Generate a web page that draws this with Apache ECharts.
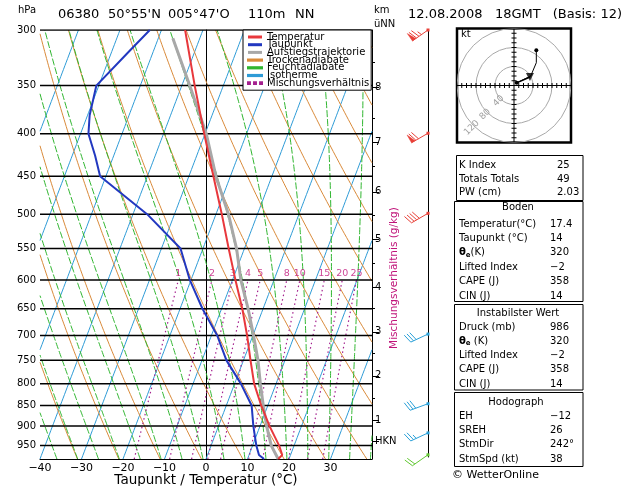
<!DOCTYPE html>
<html><head><meta charset="utf-8">
<script src="https://cdn.jsdelivr.net/npm/echarts@6/dist/echarts.min.js"></script>
<style>html,body{margin:0;padding:0;background:#fff}#c{width:629px;height:486px}</style>
</head><body><div id="c"></div>
<script>
// ===== DATA =====
const pressureLevels = [300,350,400,450,500,550,600,650,700,750,800,850,900,950];
const tempTicks = [-40,-30,-20,-10,0,10,20,30,40];
const tempP = [986,975,950,900,850,800,750,700,650,600,550,500,450,400,350,300];
const tempT = [17.4,18.0,16.4,12.3,8.4,4.7,1.7,-1.4,-5.0,-9.3,-13.8,-18.6,-24.1,-30.2,-36.9,-44.3];
const dewP = [986,975,950,900,850,800,750,700,650,600,550,500,450,425,400,380,350,320,300];
const dewT = [14,12.4,10.9,8.4,6.1,1.5,-4.1,-8.6,-14.6,-20.3,-25.4,-36.6,-51.4,-54.5,-58.1,-59.5,-60.6,-56.1,-52.8];
const parcelP = [986,950,900,850,800,750,700,650,600,550,500,450,400,350,307];
const parcelT = [17.4,14.5,11.6,8.9,6.2,3.5,0.15,-3.6,-8.0,-11.9,-17.0,-23.5,-29.7,-38.1,-46.5];
const mixRatios = [1,2,3,4,5,8,10,15,20,25];
const isoTemps = [-130,-120,-110,-100,-90,-80,-70,-60,-50,-40,-30,-20,-10,0,10,20,30,40];
const dryThetas = [-40,-30,-20,-10,0,10,20,30,40,50,60,70,80,90,100,110,120,130];
const moistThetaW = [-45,-40,-35,-30,-25,-20,-15,-10,-5,0,5,10,15,20,25,30,35,40];
const kmLabels = ['8','7','6','5','4','3','2','1','HKN'];
const kmPressures = [352,410,470,536,612,693,783,885,938];
const kmHalfPressures = [328,383,438,501,573,649,735,832];
const windP = [300,400,500,700,850,922,980];
const windDir = [235,240,240,245,250,245,235];
const windSpd = [75,70,40,30,30,25,20];
const hodoU = [5.6,35,47,47];
const hodoV = [5.6,19.6,48,74];
const hodoRings = [40,80,120];
const stormDir = 242, stormSpd = 38;
const indexRows = [['K Index','25'],['Totals Totals','49'],['PW (cm)','2.03']];
const bodenRows = [['Temperatur(°C)','17.4'],['Taupunkt (°C)','14'],['{t|θ}{s|e}(K)','320'],['Lifted Index','−2'],['CAPE (J)','358'],['CIN (J)','14']];
const instabRows = [['Druck (mb)','986'],['{t|θ}{s|e} (K)','320'],['Lifted Index','−2'],['CAPE (J)','358'],['CIN (J)','14']];
const hodoRows = [['EH','−12'],['SREH','26'],['StmDir','242°'],['StmSpd (kt)','38']];

// ===== skew-T transform =====
const PB = 986, PT = 300, K = 33, XMIN = -40, XMAX = 40;
const ln = Math.log;
function sx(T, p) { return T + K * ln(PB / p); }
function pt(T, p) { return [sx(T, p), ln(p)]; }
function interp(a, b) {
  const bound = (a[0] < XMIN || b[0] < XMIN) ? XMIN : XMAX;
  const t = (bound - a[0]) / (b[0] - a[0]);
  return [bound, a[1] + t * (b[1] - a[1])];
}
function clipLine(pts) {
  const segs = []; let cur = null;
  const inside = x => x >= XMIN && x <= XMAX;
  for (let i = 0; i < pts.length; i++) {
    const q = pts[i];
    if (inside(q[0])) {
      if (!cur) { cur = []; if (i > 0) cur.push(interp(pts[i - 1], q)); }
      cur.push(q);
    } else if (cur) { cur.push(interp(pts[i - 1], q)); segs.push(cur); cur = null; }
  }
  if (cur && cur.length > 1) segs.push(cur);
  return segs;
}
function pRange(p0, p1, n) { const a = []; for (let i = 0; i <= n; i++) a.push(Math.exp(ln(p0) + (ln(p1) - ln(p0)) * i / n)); return a; }
const es = Tc => 6.112 * Math.exp(17.67 * Tc / (Tc + 243.5));

const isoSegs = [], drySegs = [], moistSegs = [], mixSegs = [];
isoTemps.forEach(T => clipLine(pRange(PB, PT, 120).map(p => pt(T, p))).forEach(s => isoSegs.push(s)));
dryThetas.forEach(th => clipLine(pRange(PB, PT, 120).map(p => pt((th + 273.15) * Math.pow(p / 1000, 0.2857) - 273.15, p))).forEach(s => drySegs.push(s)));
moistThetaW.forEach(tw => {
  const Rd = 287.04, cp = 1005.7, Lv = 2.501e6, eps = 0.622;
  let T = tw + 273.15, p = 1000; const pts = [];
  const grad = (T, p) => { const e = es(T - 273.15); const rs = eps * e / (p - e); return (Rd * T + Lv * rs) / (p * (cp + Lv * Lv * rs * eps / (Rd * T * T))); };
  let Tb = T - grad(T, p) * (1000 - PB);
  pts.push(pt(Tb - 273.15, PB));
  p = PB; T = Tb;
  while (p > PT) {
    const dp = Math.max(-4, PT - p);
    const k1 = grad(T, p), k2 = grad(T + k1 * dp / 2, p + dp / 2), k3 = grad(T + k2 * dp / 2, p + dp / 2), k4 = grad(T + k3 * dp, p + dp);
    T += dp * (k1 + 2 * k2 + 2 * k3 + k4) / 6; p += dp;
    pts.push(pt(T - 273.15, p));
  }
  clipLine(pts).forEach(s => moistSegs.push(s));
});
const mixTop = 600;
function mixTd(w, p) { const e = w * p / (622 + w); const a = ln(e / 6.112); return 243.5 * a / (17.67 - a); }
mixRatios.forEach(w => clipLine(pRange(PB, mixTop, 40).map(p => pt(mixTd(w, p), p))).forEach(s => mixSegs.push(s)));

// ===== colours =====
const C = { iso:'#2e9bd6', dry:'#d98a3a', moist:'#2fb52f', mix:'#a4208e', temp:'#e8383c', dew:'#2238c0', parcel:'#a8a8a8', mixLabel:'#c0147a' };
const FONT = '"DejaVu Sans", sans-serif';

const series = [];
function addLines(name, segs, style, z) {
  series.push({ type:'lines', name, coordinateSystem:'cartesian2d', xAxisIndex:0, yAxisIndex:0, polyline:true, silent:true, clip:true, z,
    lineStyle: style, data: segs.map(c => ({ coords: c })) });
}
addLines('Isotherme', isoSegs, { color:C.iso, width:1, opacity:1 }, 2);
addLines('Trockenadiabate', drySegs, { color:C.dry, width:1, opacity:1 }, 2);
addLines('Feuchtadiabate', moistSegs, { color:C.moist, width:1, opacity:1, type:[7,2] }, 2);
addLines('Mischungsverhältnis', mixSegs, { color:C.mix, width:1.2, opacity:1, type:[1.5,3] }, 2);
addLines('Isobaren', pressureLevels.map(p => [[XMIN, ln(p)], [XMAX, ln(p)]]), { color:'#000', width:1.5, opacity:1 }, 3);

series.push({ type:'scatter', name:'mixLabels', xAxisIndex:0, yAxisIndex:0, silent:true, symbolSize:0, z:4,
  data: mixRatios.map(w => [sx(mixTd(w, mixTop), mixTop), ln(mixTop), w]),
  label: { show:true, position:'top', distance:1, formatter: p => String(p.value[2]), color:C.mixLabel, fontFamily:FONT, fontSize:9.5 } });

function profile(name, P, T, color, width) {
  series.push({ type:'line', name, xAxisIndex:0, yAxisIndex:0, showSymbol:false, symbol:'none', silent:true, z:5,
    lineStyle:{ color, width }, itemStyle:{ color }, data: P.map((p, i) => pt(T[i], p)) });
}
profile('Aufstiegstrajektorie', parcelP, parcelT, C.parcel, 3);
profile('Taupunkt', dewP, dewT, C.dew, 2);
profile('Temperatur', tempP, tempT, C.temp, 2);

// wind barbs
function barbColor(p) { return p >= 960 ? '#62c832' : (p >= 650 ? '#2aa0d8' : '#e84038'); }
series.push({ type:'custom', name:'wind', xAxisIndex:1, yAxisIndex:3, silent:true, z:6,
  data: windP.map((p, i) => [0, ln(p), windSpd[i], windDir[i], p]),
  renderItem: function (params, api) {
    const o = api.coord([0, api.value(1)]);
    const spd = api.value(2), dir = api.value(3) * Math.PI / 180, col = barbColor(api.value(4));
    const u = [Math.sin(dir), -Math.cos(dir)], pp = [-u[1], u[0]];
    const Ls = 19, fl = 9;
    const P = d => [o[0] + u[0] * d, o[1] + u[1] * d];
    const ch = [];
    ch.push({ type:'line', shape:{ x1:o[0], y1:o[1], x2:P(Ls)[0], y2:P(Ls)[1] }, style:{ stroke:col, lineWidth:1 } });
    ch.push({ type:'rect', shape:{ x:o[0] - 1.5, y:o[1] - 1.5, width:3, height:3 }, style:{ fill:col } });
    let s = Math.round(spd / 5) * 5, d = Ls;
    while (s >= 50) {
      const a = P(d), b = P(d - 4);
      ch.push({ type:'polygon', shape:{ points:[a, b, [a[0] + pp[0] * fl, a[1] + pp[1] * fl]] }, style:{ fill:col, stroke:col, lineWidth:0.5 } });
      d -= 5; s -= 50;
    }
    while (s >= 10) {
      const a = P(d);
      ch.push({ type:'line', shape:{ x1:a[0], y1:a[1], x2:a[0] + pp[0] * fl + u[0] * 3, y2:a[1] + pp[1] * fl + u[1] * 3 }, style:{ stroke:col, lineWidth:1 } });
      d -= 3; s -= 10;
    }
    if (s >= 5) {
      if (d === Ls) d -= 3;
      const a = P(d);
      ch.push({ type:'line', shape:{ x1:a[0], y1:a[1], x2:a[0] + pp[0] * fl * 0.5 + u[0] * 1.5, y2:a[1] + pp[1] * fl * 0.5 + u[1] * 1.5 }, style:{ stroke:col, lineWidth:1 } });
    }
    return { type:'group', children: ch };
  } });

// hodograph background
series.push({ type:'custom', name:'hodoBg', xAxisIndex:2, yAxisIndex:4, silent:true, z:2, clip:true,
  data: [[0, 0]],
  renderItem: function (params, api) {
    const c = api.coord([0, 0]); const k = api.size([1, 0])[0];
    const ch = [];
    hodoRings.forEach(r => {
      ch.push({ type:'circle', shape:{ cx:c[0], cy:c[1], r:r * k }, style:{ fill:null, stroke:'#a8a8a8', lineWidth:1 } });
      const a = r * k / Math.SQRT2;
      ch.push({ type:'text', x:c[0] - a - 2, y:c[1] + a + 2, rotation:Math.PI / 4,
        style:{ text:String(r), fill:'#a0a0a0', font:'9px ' + FONT, align:'center', verticalAlign:'middle', textAlign:'center', textVerticalAlign:'middle' } });
    });
    const E = 120 * k;
    ch.push({ type:'line', shape:{ x1:c[0] - E, y1:c[1], x2:c[0] + E, y2:c[1] }, style:{ stroke:'#000', lineWidth:1 } });
    ch.push({ type:'line', shape:{ x1:c[0], y1:c[1] - E, x2:c[0], y2:c[1] + E }, style:{ stroke:'#000', lineWidth:1 } });
    for (let v = -110; v <= 110; v += 10) {
      if (v === 0) continue;
      ch.push({ type:'line', shape:{ x1:c[0] + v * k, y1:c[1] - 2.5, x2:c[0] + v * k, y2:c[1] + 2.5 }, style:{ stroke:'#000', lineWidth:1 } });
      ch.push({ type:'line', shape:{ x1:c[0] - 2.5, y1:c[1] + v * k, x2:c[0] + 2.5, y2:c[1] + v * k }, style:{ stroke:'#000', lineWidth:1 } });
    }
    return { type:'group', children: ch };
  } });
series.push({ type:'line', name:'hodo', xAxisIndex:2, yAxisIndex:4, silent:true, z:4,
  data: hodoU.map((u, i) => [u, hodoV[i]]),
  symbol:'circle', symbolSize:(v, p) => (p.dataIndex === 0 || p.dataIndex === hodoU.length - 1) ? 4 : 0,
  lineStyle:{ color:'#000', width:1 }, itemStyle:{ color:'#000' } });
const smRad = (stormDir + 180) * Math.PI / 180;
const stormU = stormSpd * Math.sin(smRad), stormV = stormSpd * Math.cos(smRad);
series.push({ type:'line', name:'storm', xAxisIndex:2, yAxisIndex:4, silent:true, z:4,
  data: [[hodoU[0], hodoV[0]], [stormU, stormV]], symbol:'none', lineStyle:{ color:'#000', width:1.5 } });
series.push({ type:'scatter', name:'stormMark', xAxisIndex:2, yAxisIndex:4, silent:true, z:5,
  data: [[stormU, stormV]], symbol:'triangle', symbolRotate:180, symbolSize:8, itemStyle:{ color:'#000' } });

// ===== axes =====
const lnP = pressureLevels.map(ln);
const kmLn = kmPressures.map(ln);
const yBase = { type:'value', min:ln(PT), max:ln(PB), inverse:true, splitLine:{ show:false } };
const yAxis = [
  Object.assign({}, yBase, { gridIndex:0, position:'left',
    axisLine:{ show:true, lineStyle:{ color:'#000', width:1 } }, axisTick:{ show:false },
    axisLabel:{ customValues:lnP, formatter:v => String(Math.round(Math.exp(v))), color:'#000', fontFamily:FONT, fontSize:10, margin:4 } }),
  Object.assign({}, yBase, { gridIndex:0, position:'right',
    axisLine:{ show:true, lineStyle:{ color:'#000', width:1 } },
    axisTick:{ show:true, customValues:kmLn, length:7, lineStyle:{ color:'#000' } },
    axisLabel:{ customValues:kmLn, formatter:v => { const i = kmLn.findIndex(q => Math.abs(q - v) < 1e-6); return i >= 0 ? kmLabels[i] : ''; }, color:'#000', fontFamily:FONT, fontSize:10, margin:3 } }),
  Object.assign({}, yBase, { gridIndex:0, position:'right', axisLine:{ show:false },
    axisTick:{ show:true, customValues:kmHalfPressures.map(ln), length:3, lineStyle:{ color:'#000' } }, axisLabel:{ show:false } }),
  Object.assign({}, yBase, { gridIndex:1, position:'left', axisLine:{ show:true, lineStyle:{ color:'#000', width:1 } }, axisTick:{ show:false }, axisLabel:{ show:false } }),
  { type:'value', gridIndex:2, min:-120, max:120, show:false }
];
const xAxis = [
  { type:'value', gridIndex:0, min:XMIN, max:XMAX, interval:10, splitLine:{ show:false },
    axisLine:{ show:true, onZero:false, lineStyle:{ color:'#000', width:1 } }, axisTick:{ show:false },
    axisLabel:{ color:'#000', fontFamily:FONT, fontSize:11, margin:4, showMaxLabel:false,
      formatter:v => (tempTicks.indexOf(v) < 0 || v >= 40) ? '' : (v < 0 ? '−' + Math.abs(v) : String(v)) },
    name:'Taupunkt / Temperatur (°C)', nameLocation:'middle', nameGap:14, nameMoveOverlap:false,
    nameTextStyle:{ color:'#000', fontFamily:FONT, fontSize:13.5 } },
  { type:'value', gridIndex:1, min:0, max:1, show:false },
  { type:'value', gridIndex:2, min:-120, max:120, show:false }
];

// ===== graphic (titles, tables) =====
const g = [];
function txt(x, y, text, size, opt) {
  opt = opt || {};
  g.push({ type:'text', x, y, z:10, rotation:opt.rot || 0,
    style:Object.assign({ text, fill:opt.color || '#000', font:(opt.bold ? 'bold ' : '') + size + 'px ' + FONT,
      align:opt.align || 'left', verticalAlign:'middle', textAlign:opt.align || 'left', textVerticalAlign:'middle' }, opt.rich ? { rich:opt.rich } : {}) });
}
const rich = { t:{ font:'bold 10px ' + FONT, fill:'#000' }, s:{ font:'bold 7px ' + FONT, fill:'#000', padding:[4,0,0,0] } };
txt(18, 10, 'hPa', 10);
txt(58, 15, '06380', 13); txt(108, 15, "50°55'N", 13); txt(168, 15, "005°47'O", 13); txt(248, 15, '110m', 13); txt(295, 15, 'NN', 13);
txt(374, 10, 'km', 10); txt(374, 24, 'üNN', 10);
txt(408, 15, '12.08.2008', 13); txt(495, 15, '18GMT', 13); txt(622, 15, '(Basis: 12)', 13, { align:'right' });
txt(394, 278, 'Mischungsverhältnis (g/kg)', 10.5, { color:C.mixLabel, rot:Math.PI / 2, align:'center' });
txt(461, 34, 'kt', 10);
txt(452, 475, '© WetterOnline', 11);
function box(x, y, w, h) { g.push({ type:'rect', z:9, shape:{ x, y, width:w, height:h }, style:{ fill:'#fff', stroke:'#000', lineWidth:1 } }); }
function rows(list, x0, xv, y0, dy) { list.forEach((r, i) => { txt(x0, y0 + i * dy, r[0], 10, { rich }); txt(xv, y0 + i * dy, r[1], 10); }); }
box(456.5, 155.5, 126.5, 45); rows(indexRows, 459, 557, 165.5, 13.5);
box(454.5, 201.5, 128.5, 100); txt(518, 207.5, 'Boden', 10, { align:'center' }); rows(bodenRows, 459, 550, 224, 14.4);
box(454.5, 304.5, 128.5, 85.5); txt(518, 313, 'Instabilster Wert', 10, { align:'center' }); rows(instabRows, 459, 550, 327, 14.3);
box(454.5, 392.5, 128.5, 74); txt(516, 402, 'Hodograph', 10, { align:'center' }); rows(hodoRows, 459, 550, 416, 14.4);

const thin = 'path://M0,0H14V1.2H0Z', thick = 'path://M0,0H14V3H0Z', dots = 'path://M0,0H1.6V1.4H0Z M5,0H6.6V1.4H5Z M10,0H11.6V1.4H10Z';
const chart = echarts.init(document.getElementById('c'), null, { renderer:'canvas' });
chart.setOption({
  animation:false, backgroundColor:'#fff',
  grid:[ { left:40, right:257, top:30, bottom:27, outerBoundsMode:'none', containLabel:false },
         { left:428, width:1, top:30, bottom:29, outerBoundsMode:'none', containLabel:false },
         { left:457, top:28.5, width:114, height:114, show:true, borderColor:'#000', borderWidth:2.5, backgroundColor:'#fff', z:1, outerBoundsMode:'none', containLabel:false } ],
  xAxis, yAxis, series, graphic:{ elements:g },
  legend:{ orient:'vertical', left:243, top:30, itemWidth:14, itemHeight:8, itemGap:-2.3, padding:[2,2,2,4], selectedMode:false,
    backgroundColor:'#fff', borderColor:'#000', borderWidth:1, z:8,
    textStyle:{ fontFamily:FONT, fontSize:10, lineHeight:8.7, color:'#000' },
    data:[ { name:'Temperatur', icon:thick, itemStyle:{ color:C.temp } }, { name:'Taupunkt', icon:thick, itemStyle:{ color:C.dew } },
           { name:'Aufstiegstrajektorie', icon:thick, itemStyle:{ color:C.parcel } }, { name:'Trockenadiabate', icon:thin, itemStyle:{ color:C.dry } },
           { name:'Feuchtadiabate', icon:thin, itemStyle:{ color:C.moist } }, { name:'Isotherme', icon:thin, itemStyle:{ color:C.iso } },
           { name:'Mischungsverhältnis', icon:dots, itemStyle:{ color:C.mix } } ] }
});
</script></body></html>
